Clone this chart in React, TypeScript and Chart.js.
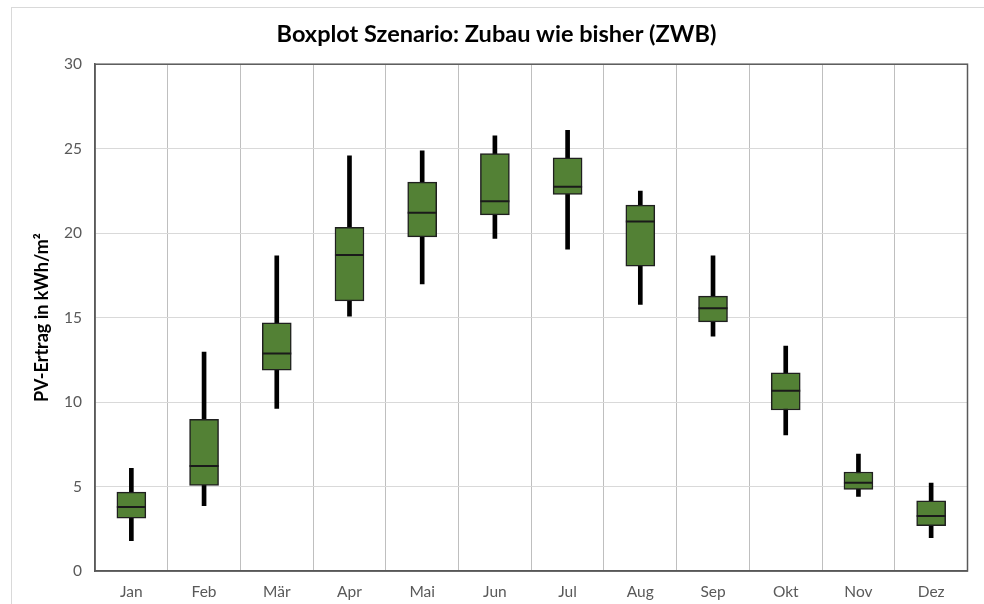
import React, { useEffect, useRef } from "react";
import { Chart, registerables } from "chart.js";
Chart.register(...registerables);

const months = ["Jan", "Feb", "Mär", "Apr", "Mai", "Jun", "Jul", "Aug", "Sep", "Okt", "Nov", "Dez"];
const whiskerMin = [1.79, 3.86, 9.63, 15.09, 17.0, 19.69, 19.05, 15.78, 13.9, 8.05, 4.42, 1.97];
const q1 = [3.12, 5.07, 11.89, 15.99, 19.78, 21.08, 22.29, 18.05, 14.75, 9.53, 4.83, 2.68];
const median = [3.79, 6.21, 12.88, 18.7, 21.2, 21.88, 22.74, 20.69, 15.56, 10.67, 5.22, 3.25];
const q3 = [4.67, 8.98, 14.69, 20.34, 23.02, 24.71, 24.46, 21.66, 16.27, 11.73, 5.86, 4.16];
const whiskerMax = [6.08, 12.96, 18.66, 24.57, 24.87, 25.76, 26.09, 22.49, 18.66, 13.31, 6.92, 5.21];

const yTicks = [0, 5, 10, 15, 20, 25, 30];
const titleText = "Boxplot Szenario: Zubau wie bisher (ZWB)";
const yTitle = "PV-Ertrag in kWh/m²";

const FONT = "Lato, 'Open Sans', sans-serif";

const framePlugin = {
  id: "framePlugin",
  beforeDraw(chart: any) {
    const ctx = chart.ctx;
    ctx.save();
    ctx.fillStyle = "#ffffff";
    ctx.fillRect(0, 0, chart.width, chart.height);
    ctx.strokeStyle = "#d9d9d9";
    ctx.lineWidth = 1;
    ctx.strokeRect(11.5, 7.5, chart.width, chart.height);
    ctx.restore();
  },
  afterDatasetsDraw(chart: any) {
    const { ctx, chartArea } = chart;
    ctx.save();
    ctx.strokeStyle = "#595959";
    ctx.lineWidth = 1.5;
    ctx.strokeRect(chartArea.left, chartArea.top, chartArea.right - chartArea.left, chartArea.bottom - chartArea.top);
    ctx.restore();
  },
};

export default function App() {
  const ref = useRef<HTMLCanvasElement | null>(null);
  useEffect(() => {
    if (!ref.current) return;
    const chart = new Chart(ref.current, {
      type: "bar",
      data: {
        labels: months,
        datasets: [
          {
            type: "line",
            label: "Median",
            data: median,
            showLine: false,
            pointStyle: "line",
            pointRadius: 14.5,
            pointHoverRadius: 14.5,
            borderColor: "#1a1a1a",
            pointBorderWidth: 2,
            borderWidth: 2,
            order: 0,
          } as any,
          {
            label: "Box",
            data: months.map((_, i) => [q1[i], q3[i]]),
            backgroundColor: "#538135",
            borderColor: "#1f1f1f",
            borderWidth: 1.5,
            borderSkipped: false,
            barThickness: 29,
            grouped: false,
            order: 1,
          } as any,
          {
            label: "Whisker",
            data: months.map((_, i) => [whiskerMin[i], whiskerMax[i]]),
            backgroundColor: "#000000",
            borderWidth: 0,
            barThickness: 4,
            grouped: false,
            order: 2,
          } as any,
        ],
      },
      options: {
        animation: false,
        responsive: false,
        maintainAspectRatio: false,
        layout: { padding: { left: 24, right: 15, top: 0, bottom: 0 } },
        plugins: {
          legend: { display: false },
          tooltip: { enabled: false },
          title: {
            display: true,
            text: titleText,
            color: "#000000",
            font: { family: FONT, size: 23.5, weight: "bold" },
            padding: { top: 20, bottom: 16 },
          },
        },
        scales: {
          x: {
            offset: true,
            grid: { offset: true, color: "#bfbfbf", lineWidth: 1, drawTicks: false },
            border: { display: true, color: "#595959", width: 1.5 },
            ticks: { color: "#595959", font: { family: FONT, size: 15.5 }, padding: 12 },
            afterFit: (s: any) => { s.height = 33; },
          },
          y: {
            min: 0,
            max: 30,
            afterBuildTicks: (s: any) => { s.ticks = yTicks.map((v) => ({ value: v })); },
            grid: { color: "#d9d9d9", lineWidth: 1, drawTicks: false },
            border: { display: true, color: "#595959", width: 1.5 },
            ticks: { color: "#595959", font: { family: FONT, size: 15.5 }, padding: 13 },
            title: {
              display: true,
              text: yTitle,
              color: "#000000",
              font: { family: FONT, size: 18, weight: "bold" },
              padding: { top: 7, bottom: 0 },
            },
            afterFit: (s: any) => { s.width = 71; },
          },
        },
      },
      plugins: [framePlugin],
    } as any);
    return () => chart.destroy();
  }, []);
  return (
    <div style={{ position: "fixed", left: 0, top: 0, width: 984, height: 604, background: "#fff" }}>
      <canvas ref={ref} width={984} height={604} style={{ width: 984, height: 604 }} />
    </div>
  );
}
